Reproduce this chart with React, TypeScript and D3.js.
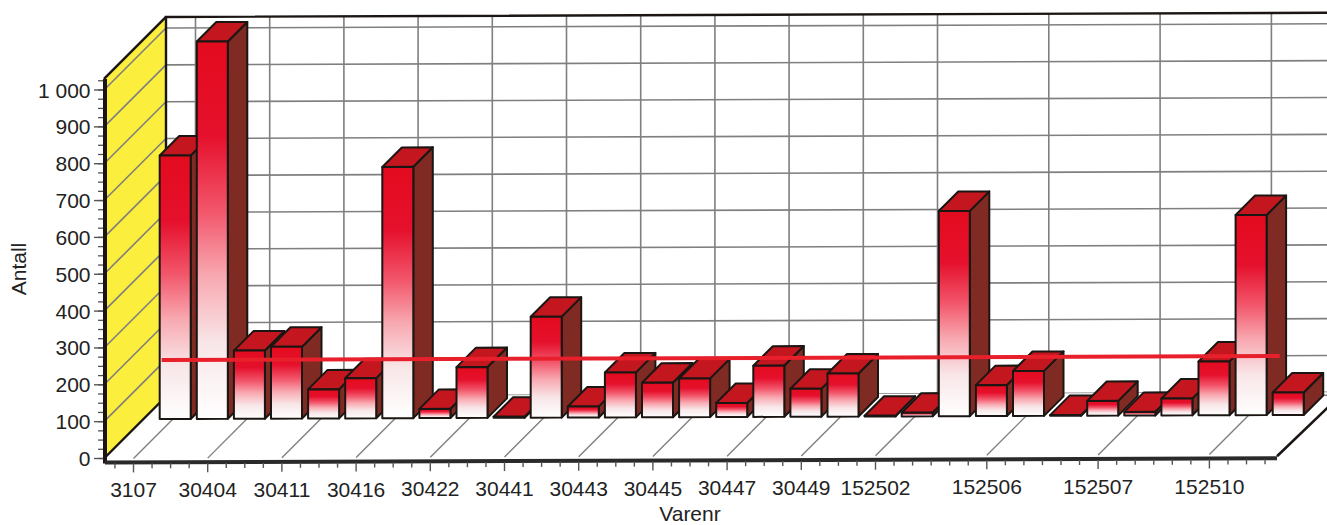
import React from "react";
import * as d3 from "d3";

const categories = ["3107","c1","30404","c3","30411","c5","30416","c7","30422","c9","30441","c11","30443","c13","30445","c15","30447","c17","30449","c19","152502","c21","c22","152506","c24","c25","152507","c27","c28","152510","c30"];
const shownLabels = new Set(["3107","30404","30411","30416","30422","30441","30443","30445","30447","30449","152502","152506","152507","152510"]);
const values = [715,1024,185,195,79,109,682,25,138,3,274,30,122,94,105,38,139,76,117,2,10,557,84,122,2,40,10,46,146,543,61];
const meanValue = 160;
const majorTicks = [0,100,200,300,400,500,600,700,800,900,1000];
const minorTicks = d3.range(0,1030,25);
const axisMax = 1030;

const W = 1327, H = 525;
const x = d3.scaleLinear().domain([0,30]).range([133.5,1246.5]);
const h = d3.scaleLinear().domain([0,1000]).range([0,368.5]);
const DEPTH = 62;
const BAR_D = 41;
const BAR_DEEP = 19.5;
const BAR_W = 31;
const STEP = (x(1)-x(0))/2;

const P = (px:number, v:number, d:number):[number,number] => [px + d, 458.5 - 0.0036*(px-104) - h(v) - d];
// point on a bar: bars stand a little in front of the plain depth plane
const B = (px:number, v:number, d:number):[number,number] => {
  const q = P(px-BAR_D, v, BAR_D+d);
  return [q[0]+0.7, q[1]+1.6];
};
const line = d3.line();
const poly = (pts:[number,number][]) => (line(pts) as string) + "Z";

const INK = "#1b1613";
const GRID = "#7f7f7f";
const xRight = 1277;

export default function App(){
  return (
    <svg width={W} height={H} viewBox={`0 0 ${W} ${H}`} style={{position:"fixed",left:0,top:0,background:"#fff"}} fontFamily="'Liberation Sans', Arial, sans-serif">
      <defs>
        <linearGradient id="barFill" x1="0" y1="0" x2="0" y2="1">
          <stop offset="0" stopColor="#e30b1e"/>
          <stop offset="0.25" stopColor="#e5102c"/>
          <stop offset="0.45" stopColor="#f2566b"/>
          <stop offset="0.62" stopColor="#f8a8b0"/>
          <stop offset="0.8" stopColor="#f8e6e8"/>
          <stop offset="1" stopColor="#ffffff"/>
        </linearGradient>
      </defs>

      {/* side wall */}
      <path d={poly([P(104,0,0),P(104,axisMax,0),P(104,axisMax,DEPTH),P(104,0,DEPTH)])} fill="#fcee3c"/>
      {majorTicks.map(v=><path key={"s"+v} d={line([P(104,v,0),P(104,v,DEPTH)]) as string} stroke={GRID} strokeWidth={1.6} fill="none"/>)}
      {/* back wall */}
      {majorTicks.map(v=><path key={"b"+v} d={line([P(104,v,DEPTH),P(1400,v,DEPTH)]) as string} stroke={GRID} strokeWidth={1.6} fill="none"/>)}
      {categories.map((c,i)=>shownLabels.has(c)?<path key={"v"+c} d={line([P(x(i),0,DEPTH),P(x(i),axisMax,DEPTH)]) as string} stroke={GRID} strokeWidth={1.6} fill="none"/>:null)}
      {/* floor */}
      <path d={poly([P(104,0,0),P(xRight,0,0),P(xRight,0,DEPTH),P(104,0,DEPTH)])} fill="#fff"/>
      {categories.map((c,i)=>shownLabels.has(c)?<path key={"f"+c} d={line([P(x(i),0,0),P(x(i),0,DEPTH)]) as string} stroke={GRID} strokeWidth={1.4} fill="none"/>:null)}
      <path d={line([P(1255,-8,DEPTH),P(1330,-8,DEPTH)]) as string} stroke={GRID} strokeWidth={1.4} fill="none"/>

      {/* frame */}
      <path d={line([P(104,0,DEPTH),P(104,axisMax,DEPTH),P(1400,axisMax,DEPTH)]) as string} stroke={INK} strokeWidth={2.4} fill="none"/>
      <path d={line([P(104,axisMax,DEPTH),P(104,axisMax,0)]) as string} stroke={INK} strokeWidth={2.4} fill="none"/>
      <path d={line([P(104,0,0),P(104,0,DEPTH)]) as string} stroke={INK} strokeWidth={2.4} fill="none"/>
      <path d={line([[xRight,P(xRight,0,0)[1]+2],P(xRight,-12,DEPTH)]) as string} stroke={INK} strokeWidth={2.6} fill="none"/>
      <path d={line([[105,P(104,axisMax,0)[1]],[105,P(104,0,0)[1]+5]]) as string} stroke={INK} strokeWidth={4} fill="none"/>
      <path d={line([[P(104,0,0)[0]+1,P(104,0,0)[1]+4],[xRight,P(xRight,0,0)[1]+4]]) as string} stroke={"#2a2a2a"} strokeWidth={4} fill="none"/>

      {/* value axis */}
      {minorTicks.map(v=><path key={"mi"+v} d={`M98,${P(104,v,0)[1]}H103`} stroke="#555" strokeWidth={1.3}/>)}
      {majorTicks.map(v=><path key={"ma"+v} d={`M94,${P(104,v,0)[1]}H103`} stroke="#555" strokeWidth={1.4}/>)}
      {majorTicks.map(v=><text key={"yl"+v} x={90.5} y={P(104,v,0)[1]+7.5} textAnchor="end" fontSize={21} fill="#222">{d3.format(",")(v).replace(","," ")}</text>)}
      <text transform="translate(26,269) rotate(-90)" textAnchor="middle" fontSize={21} fill="#222">Antall</text>

      {/* category axis */}
      {d3.range(0,63).map(k=>{
        const px = x(-0.5)+k*STEP;
        const idx = (k-1)/2;
        const major = Number.isInteger(idx) && shownLabels.has(categories[idx]);
        const y0 = P(px,0,0)[1]+5;
        return <path key={"xt"+k} d={`M${px},${y0}V${y0+(major?9:5)}`} stroke="#555" strokeWidth={1.4}/>;
      })}
      {categories.map((c,i)=>shownLabels.has(c)?<text key={"xl"+c} x={x(i)} y={P(x(i),0,0)[1]+39} textAnchor="middle" fontSize={21} fill="#222">{c}</text>:null)}
      <text x={690} y={521} textAnchor="middle" fontSize={21} fill="#222">Varenr</text>

      {/* bars */}
      {values.map((v,i)=>{
        const l = x(i)+BAR_D-BAR_W/2, r = l+BAR_W;
        const fl0 = B(l,0,0), fr0 = B(r,0,0), fl1 = B(l,v,0), fr1 = B(r,v,0);
        const bl1 = B(l,v,BAR_DEEP), br1 = B(r,v,BAR_DEEP), br0 = B(r,0,BAR_DEEP);
        return (
          <g key={i} stroke={INK} strokeWidth={2} strokeLinejoin="round">
            <path d={poly([fr0,fr1,br1,br0])} fill="#7f2a22"/>
            <path d={poly([fl1,fr1,br1,bl1])} fill="#c4161f"/>
            <path d={poly([fl0,fl1,fr1,fr0])} fill="url(#barFill)"/>
          </g>
        );
      })}

      {/* mean line */}
      <path d={line([B(161,meanValue,0),B(1279,meanValue,0)]) as string} stroke="#e8202c" strokeWidth={4} fill="none"/>
    </svg>
  );
}
